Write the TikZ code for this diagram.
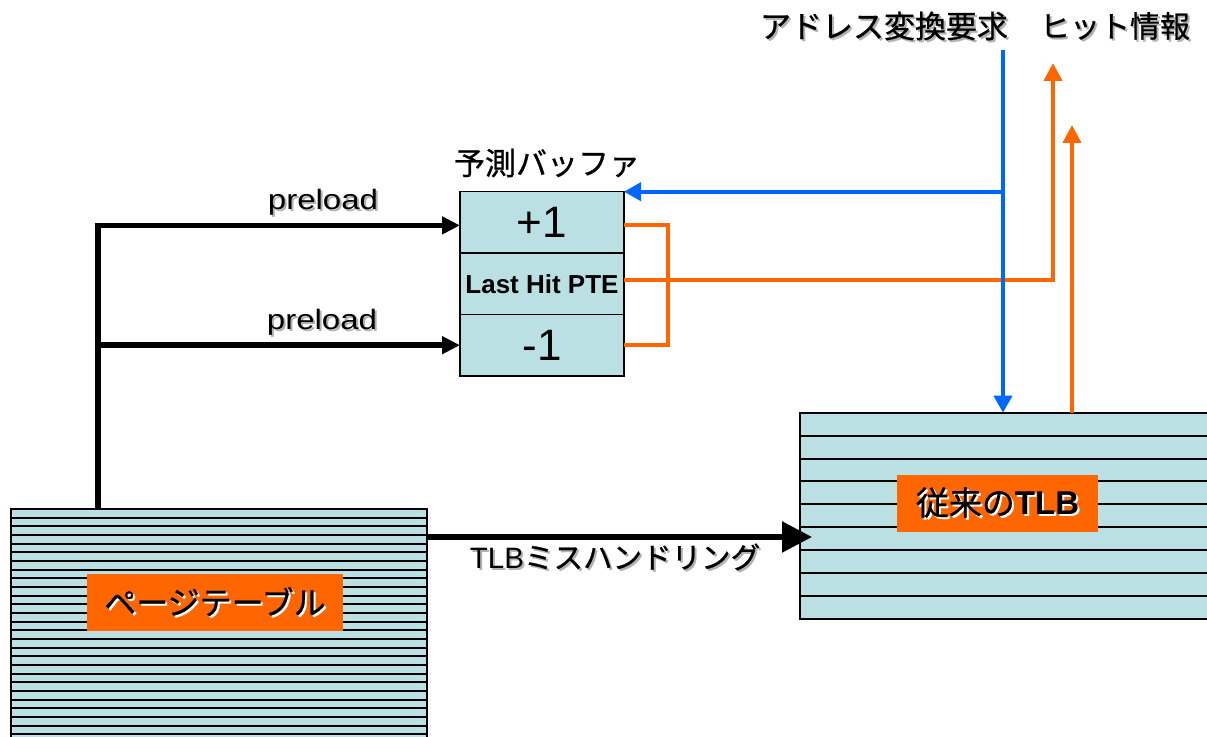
\documentclass[tikz,border=0pt]{standalone}
\usepackage{fontspec}
\setmainfont{Liberation Sans}
\newfontfamily\jp{Noto Sans CJK JP}[FakeBold=0.8]
\newfontfamily\wide{Liberation Sans}[FakeStretch=1.18]
\usetikzlibrary{arrows.meta,calc}
\definecolor{cellfill}{RGB}{187,224,227}
\definecolor{hitorange}{RGB}{255,102,0}
\definecolor{reqblue}{RGB}{0,102,255}
\newcommand\fs[1]{\fontsize{#1}{#1}\selectfont}
% text with a soft offset copy underneath
\newcommand\shadowed[2]{\leavevmode\rlap{\kern2pt\raisebox{-2pt}{\color{#1}#2}}#2}
\tikzset{
  cell/.style={draw=black, line width=1.6pt, fill=cellfill, minimum width=164pt,
    minimum height=61.4pt, inner sep=0pt, outer sep=0pt, anchor=north},
  table/.style={draw=black, line width=2pt, fill=cellfill, inner sep=0pt,
    outer sep=0pt, anchor=north west},
  stripe/.style={line width=2pt},
  tag/.style={fill=hitorange, inner sep=0pt, outer sep=0pt},
  lbl/.style={inner sep=0pt, text=black},
  feed/.style={line width=5.5pt, -{Triangle[length=18pt,width=17pt]}},
  bigfeed/.style={line width=5.5pt, -{Triangle[length=30pt,width=30pt]}},
  hitline/.style={draw=hitorange, line width=4pt},
  hitarrow/.style={draw=hitorange, line width=4pt, -{Triangle[length=18pt,width=18pt]}, color=hitorange},
  reqarrow/.style={draw=reqblue, line width=4pt, -{Triangle[length=17pt,width=18pt]}, color=reqblue},
}
\begin{document}
\begin{tikzpicture}[x=1pt,y=1pt]
\useasboundingbox (0,0) rectangle (1207,736);
\clip (0,0) rectangle (1207,736);

% page table
\node[table, minimum width=416pt, minimum height=240pt] (ptab) at (11,227) {};
\foreach \k in {1,...,27}
  \draw[stripe] ([yshift={-\k*8.67pt}]ptab.north west) -- ([yshift={-\k*8.67pt}]ptab.north east);
\node[tag, minimum width=256pt, minimum height=57pt] (ptlabel) at (215,133.5)
  {\fs{32}\shadowed{white}{\jp ページテーブル}};

% conventional TLB
\node[table, minimum width=420pt, minimum height=206.3pt] (tlb) at (800,323.3) {};
\foreach \k in {1,...,8}
  \draw[stripe] ([yshift={-\k*22.92pt}]tlb.north west) -- ([yshift={-\k*22.92pt}]tlb.north east);
\node[tag, minimum width=201pt, minimum height=57pt] (tlblabel) at (997.5,232.5)
  {\fs{33}\shadowed{white}{{\jp 従来の}\textbf{TLB}}};

% prediction buffer
\node[cell] (plus) at (542,544.3) {\fs{44}+1};
\node[cell] (last) at (plus.south) {\fs{26}\bfseries Last Hit PTE};
\node[cell] (minus) at (last.south) {\fs{44}-1};
\node[lbl] (bufname) at (547,573) {\fs{31}\jp 予測バッファ};

% preload paths from the page table
\coordinate (trunk) at ($(ptab.north west)+(87,0)$);
\draw[feed] (trunk) |- ([yshift=-3pt]plus.west);
\draw[feed] (trunk |- minus.west) -- (minus.west);
\node[lbl] (pre1) at (323,533) {\fs{28}\wide\shadowed{gray!60}{preload}};
\node[lbl] (pre2) at (322,413) {\fs{28}\wide\shadowed{gray!60}{preload}};

% TLB miss handling
\coordinate (missfrom) at (ptab.north east |- 0,199);
\coordinate (missto) at ($(tlb.west |- 0,199)+(12,0)$);
\draw[bigfeed] (missfrom) -- (missto);
\node[lbl] (miss) at (615,178) {\fs{29.5}\shadowed{gray!60}{TLB{\jp ミスハンドリング}}};

% hit information
\coordinate (hitA) at (1053,673);
\coordinate (hitB) at (1072,611);
\draw[hitline] ([yshift=-3pt]plus.east) -- ++(44,0) |- (minus.east);
\draw[hitarrow] ([yshift=4pt]last.east) -| (hitA);
\draw[hitarrow] (hitB |- tlb.north) -- (hitB);

% address translation request
\coordinate (req) at (1003,686);
\draw[reqarrow] (req) -- (req |- tlb.north);
\draw[reqarrow] (req |- plus.north) -- (plus.north east);

\node[lbl] (reqlbl) at (884,709) {\fs{31}\shadowed{gray!60}{\jp アドレス変換要求}};
\node[lbl] (hitlbl) at (1115,709) {\fs{30}\shadowed{gray!60}{\jp ヒット情報}};
\end{tikzpicture}
\end{document}
